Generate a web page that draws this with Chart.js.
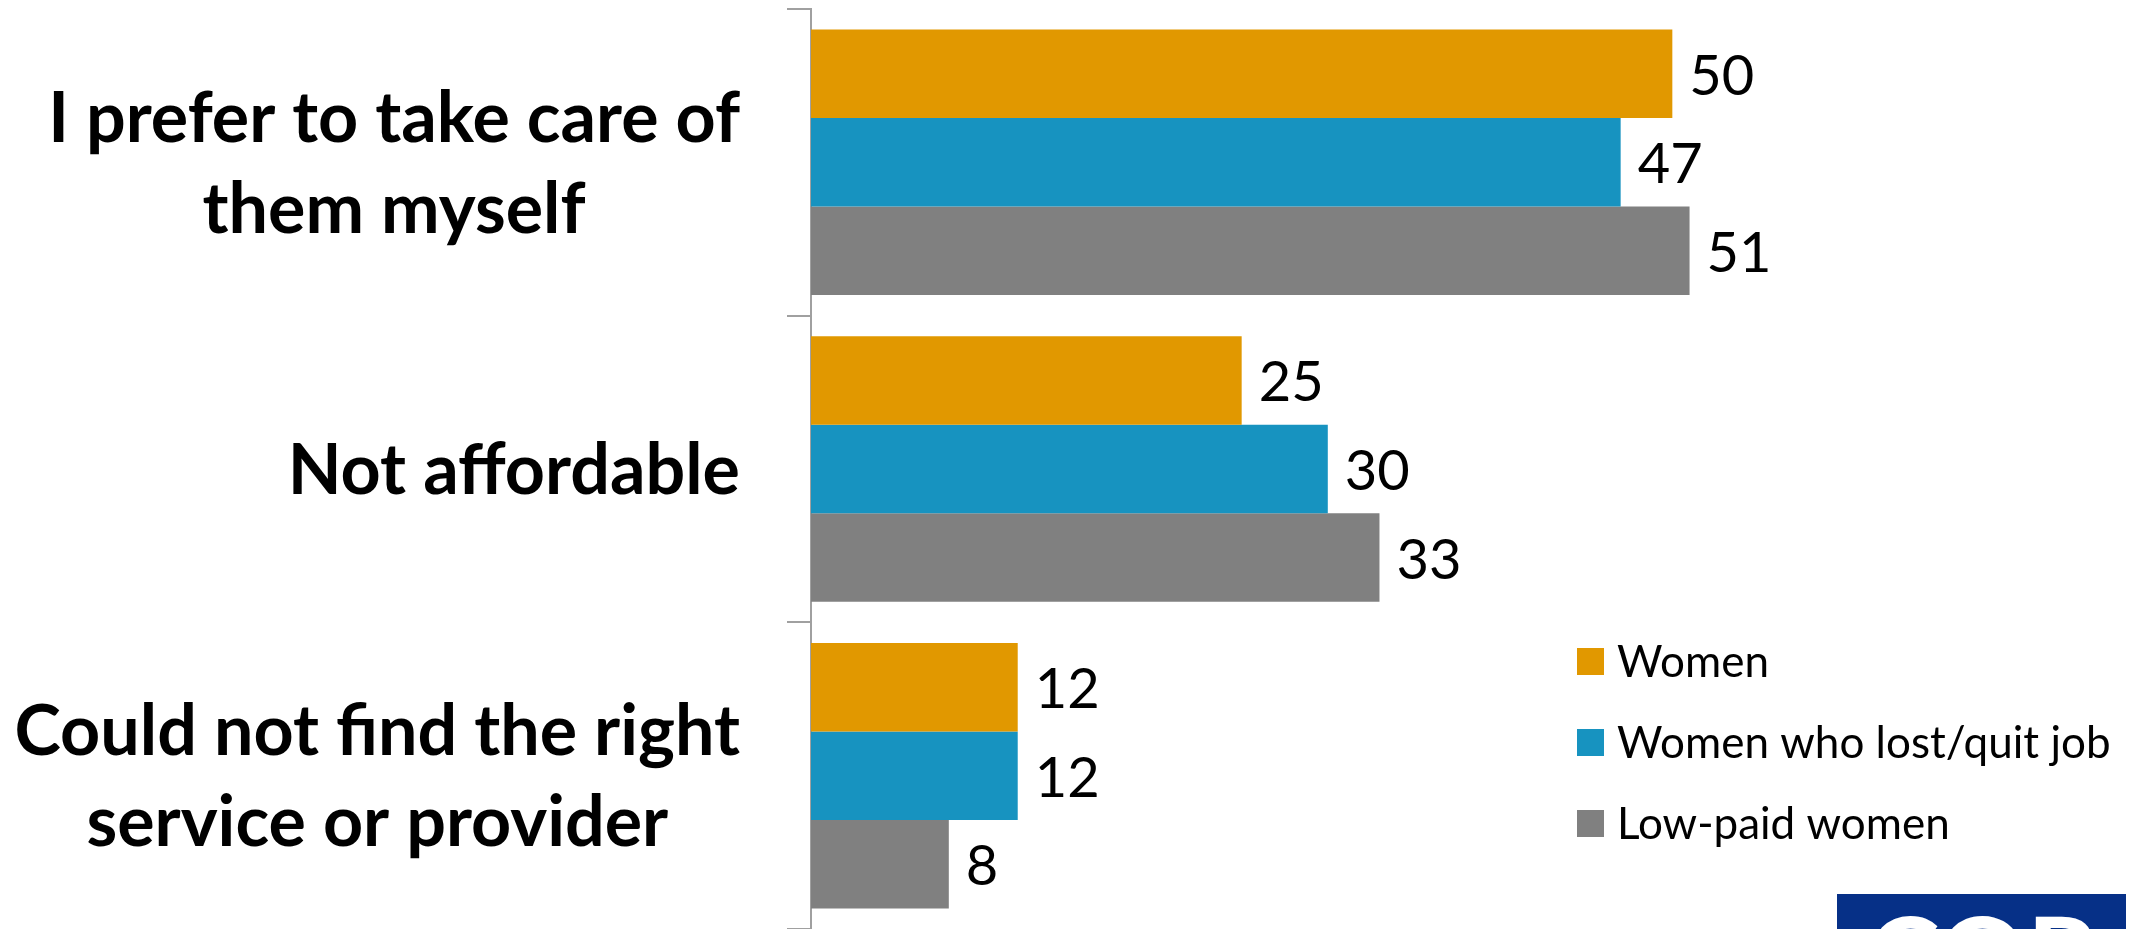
<!DOCTYPE html>
<html lang="en">
<head>
  <meta charset="UTF-8" />
  <title>Reasons for not using care services</title>
  <script src="https://cdn.jsdelivr.net/npm/chart.js"></script>
  <style>
    body {
      margin: 0;
      background: #ffffff;
      overflow: hidden;
    }
    canvas {
      display: block;
    }
  </style>
</head>
<body>
  <canvas id="reasonsChart" width="2144" height="929"></canvas>

  <script>
    // categories (each label split into its lines)
    const reasons = [
      ['I prefer to take care of', 'them myself'],
      ['Not affordable'],
      ['Could not find the right', 'service or provider']
    ];

    const seriesNames = ['Women', 'Women who lost/quit job', 'Low-paid women'];
    const women = [50, 25, 12];
    const womenLostJob = [47, 30, 12];
    const lowPaidWomen = [51, 33, 8];

    const colors = ['#e19800', '#1793c0', '#808080'];

    // value labels at the end of every bar
    const valueLabels = {
      id: 'valueLabels',
      afterDatasetsDraw(chart) {
        const ctx = chart.ctx;
        ctx.save();
        ctx.fillStyle = '#000000';
        ctx.font = '56px Lato, sans-serif';
        ctx.textAlign = 'left';
        ctx.textBaseline = 'alphabetic';
        chart.data.datasets.forEach((ds, i) => {
          chart.getDatasetMeta(i).data.forEach((bar, j) => {
            ctx.fillText(String(ds.data[j]), bar.x + 17, bar.y + 21);
          });
        });
        ctx.restore();
      }
    };

    // bold category labels: block right-aligned, lines centred in the block
    const categoryLabels = {
      id: 'categoryLabels',
      afterDraw(chart) {
        const ctx = chart.ctx;
        const y = chart.scales.y;
        const right = 740;
        const lineGap = 91;
        ctx.save();
        ctx.fillStyle = '#000000';
        ctx.font = 'bold 70px Lato, sans-serif';
        ctx.textAlign = 'center';
        ctx.textBaseline = 'alphabetic';
        reasons.forEach((lines, i) => {
          const cy = y.getPixelForTick(i);
          const w = Math.max(...lines.map(l => ctx.measureText(l).width));
          const cx = right - w / 2;
          const first = cy - (lines.length - 1) * lineGap / 2;
          lines.forEach((line, k) => {
            ctx.fillText(line, cx, first + k * lineGap + 25);
          });
        });
        ctx.restore();
      }
    };

    // legend inside the plot, lower right
    const sideLegend = {
      id: 'sideLegend',
      afterDraw(chart) {
        const ctx = chart.ctx;
        ctx.save();
        ctx.font = '44px Lato, sans-serif';
        ctx.textAlign = 'left';
        ctx.textBaseline = 'alphabetic';
        chart.data.datasets.forEach((ds, i) => {
          const cy = 661.5 + i * 81;
          ctx.fillStyle = ds.backgroundColor;
          ctx.fillRect(1577, cy - 13.5, 27, 27);
          ctx.fillStyle = '#000000';
          ctx.fillText(ds.label, 1617, cy + 15);
        });
        ctx.restore();
      }
    };

    // corner logo block
    const cornerLogo = {
      id: 'cornerLogo',
      afterDraw(chart) {
        const ctx = chart.ctx;
        ctx.save();
        ctx.fillStyle = '#063087';
        ctx.fillRect(1837, 894, 289, 60);
        ctx.fillStyle = '#ffffff';
        ctx.font = 'bold 110px Lato, sans-serif';
        ctx.textAlign = 'center';
        ctx.textBaseline = 'alphabetic';
        ctx.fillText('COP', 1981, 996);
        ctx.restore();
      }
    };

    const ctx = document.getElementById('reasonsChart').getContext('2d');
    new Chart(ctx, {
      type: 'bar',
      data: {
        labels: reasons,
        datasets: [
          { label: seriesNames[0], data: women, backgroundColor: colors[0] },
          { label: seriesNames[1], data: womenLostJob, backgroundColor: colors[1] },
          { label: seriesNames[2], data: lowPaidWomen, backgroundColor: colors[2] }
        ]
      },
      options: {
        indexAxis: 'y',
        responsive: false,
        animation: false,
        devicePixelRatio: 1,
        layout: { padding: { top: 9, right: 41, bottom: 0, left: 0 } },
        datasets: {
          bar: { categoryPercentage: 0.866, barPercentage: 1.0 }
        },
        plugins: {
          legend: { display: false },
          tooltip: { enabled: false }
        },
        scales: {
          x: {
            display: false,
            min: 0,
            max: 75
          },
          y: {
            afterFit(scale) { scale.width = 811; },
            ticks: { display: false },
            grid: {
              offset: true,
              drawOnChartArea: false,
              drawTicks: true,
              tickLength: 24,
              lineWidth: 2,
              tickColor: (c) => c.index === reasons.length ? 'rgba(0,0,0,0)' : '#a0a0a0'
            },
            border: { display: true, color: '#a0a0a0', width: 2 }
          }
        }
      },
      plugins: [valueLabels, categoryLabels, sideLegend, cornerLogo]
    });
  </script>
</body>
</html>
